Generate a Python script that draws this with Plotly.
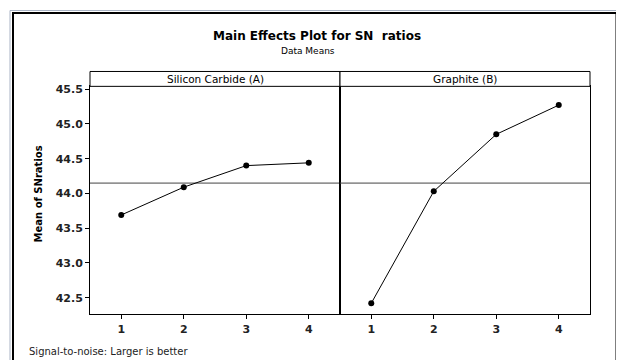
import plotly.graph_objects as go

# ---- data ----
levels = [1, 2, 3, 4]
factor_names = ["Silicon Carbide (A)", "Graphite (B)"]
sn_silicon_carbide = [43.69, 44.09, 44.40, 44.44]
sn_graphite = [42.42, 44.03, 44.85, 45.27]
y_ticks = [42.5, 43.0, 43.5, 44.0, 44.5, 45.0, 45.5]

# page body has an 8px margin, so the figure starts at (8, 8)
OFF = 8
W, H = 616, 352
def px(x):
    return (x - OFF) / W
def py(y):
    return 1 - (y - OFF) / H

overall_mean = (sum(sn_silicon_carbide) + sum(sn_graphite)) / (len(sn_silicon_carbide) + len(sn_graphite))

FONT = "DejaVu Sans, Liberation Sans, Arial, sans-serif"

fig = go.Figure()
series = [sn_silicon_carbide, sn_graphite]
for i, vals in enumerate(series):
    xa = "x" if i == 0 else "x2"
    ya = "y" if i == 0 else "y2"
    fig.add_trace(go.Scatter(
        x=[0.5, 4.5], y=[overall_mean, overall_mean], mode="lines",
        xaxis=xa, yaxis=ya, line=dict(color="#444444", width=1),
        showlegend=False, hoverinfo="skip"))
    fig.add_trace(go.Scatter(
        x=levels, y=vals, mode="lines+markers", xaxis=xa, yaxis=ya,
        line=dict(color="black", width=1),
        marker=dict(color="black", size=6, symbol="circle"),
        showlegend=False, hoverinfo="skip"))

yr = [42.26, 45.54]
axis_common = dict(showline=True, mirror=True, linecolor="black", linewidth=1,
                   showgrid=False, zeroline=False, ticklen=4,
                   tickcolor="black", tickwidth=1)
tickfont = dict(family=FONT, size=11, color="#222222", weight="bold")

fig.update_layout(
    width=W, height=H,
    margin=dict(l=0, r=0, t=0, b=0),
    paper_bgcolor="white", plot_bgcolor="white",
    xaxis=dict(domain=[px(90), px(340)], range=[0.5, 4.5], tickvals=levels,
               anchor="y", ticks="outside", tickfont=tickfont, **axis_common),
    xaxis2=dict(domain=[px(340), px(590)], range=[0.5, 4.5], tickvals=levels,
                anchor="y2", ticks="outside", tickfont=tickfont, **axis_common),
    yaxis=dict(domain=[py(314), py(84)], range=yr, tickvals=y_ticks,
               tickformat=".1f", anchor="x", ticks="outside", tickfont=tickfont,
               **axis_common),
    yaxis2=dict(domain=[py(314), py(84)], range=yr, tickvals=y_ticks,
                showticklabels=False, anchor="x2", ticks="", **axis_common),
)

shapes = []
# outer frame
shapes.append(dict(type="rect", xref="paper", yref="paper",
                   x0=px(10), x1=px(619), y0=py(420), y1=py(7.5),
                   line=dict(color="#a9b3c4", width=1)))
shapes.append(dict(type="rect", xref="paper", yref="paper",
                   x0=px(13), x1=px(616.5), y0=py(420), y1=py(10),
                   line=dict(color="black", width=2)))
# strip boxes
for x0, x1 in [(90, 340), (340, 590)]:
    shapes.append(dict(type="rect", xref="paper", yref="paper",
                       x0=px(x0), x1=px(x1), y0=py(84), y1=py(69),
                       line=dict(color="black", width=1), fillcolor="white"))
fig.update_layout(shapes=shapes)

ann = []
ann.append(dict(text="<b>Main Effects Plot for SN  ratios</b>", x=px(317), y=py(33),
                xref="paper", yref="paper", showarrow=False,
                font=dict(family=FONT, size=12, color="black"),
                xanchor="center", yanchor="middle"))
ann.append(dict(text="Data Means", x=px(308), y=py(48),
                xref="paper", yref="paper", showarrow=False,
                font=dict(family=FONT, size=9, color="black"),
                xanchor="center", yanchor="middle"))
for name, cx in zip(factor_names, [215, 465]):
    ann.append(dict(text=name, x=px(cx), y=py(76.5),
                    xref="paper", yref="paper", showarrow=False,
                    font=dict(family=FONT, size=10.5, color="black"),
                    xanchor="center", yanchor="middle"))
ann.append(dict(text="<b>Mean of SNratios</b>", x=px(38), y=py(193),
                xref="paper", yref="paper", showarrow=False, textangle=-90,
                font=dict(family=FONT, size=10, color="black"),
                xanchor="center", yanchor="middle"))
ann.append(dict(text="Signal-to-noise: Larger is better", x=px(27), y=py(351),
                xref="paper", yref="paper", showarrow=False,
                font=dict(family=FONT, size=10, color="#222222"),
                xanchor="left", yanchor="middle"))
fig.update_layout(annotations=ann)

fig.write_html("out.html")
